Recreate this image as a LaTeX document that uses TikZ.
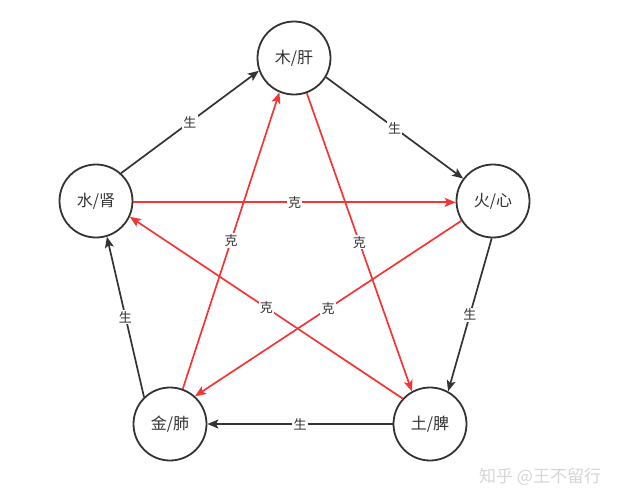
\documentclass[tikz,border=0pt]{standalone}
\usepackage{fontspec}
\setmainfont{Noto Sans CJK SC}
\usetikzlibrary{arrows.meta}
\definecolor{ink}{HTML}{333333}
\definecolor{kered}{HTML}{F53535}
\definecolor{wm}{HTML}{D5D5D5}
\begin{document}
\begin{tikzpicture}[x=1pt,y=-1pt,
  elem/.style={circle, draw=ink, line width=1.8pt, minimum size=73pt, inner sep=0pt, text=ink, font=\fontsize{16}{16}\selectfont},
  sheng/.style={draw=ink, line width=1.7pt, -{Stealth[length=11pt,width=9pt,inset=2.5pt]}},
  ke/.style={draw=kered, line width=1.7pt, -{Stealth[length=11pt,width=9pt,inset=2.5pt]}},
  lbl/.style={fill=white, inner sep=1.2pt, text=ink, font=\fontsize{13}{13}\selectfont}]
\useasboundingbox (0,0) rectangle (630,504);
\node[elem] (mu) at (294,58) {木/肝};
\node[elem] (huo) at (493,201) {火/心};
\node[elem] (tu) at (430,424) {土/脾};
\node[elem] (jin) at (170,424) {金/肺};
\node[elem] (shui) at (96,201) {水/肾};
% sheng cycle
\draw[sheng] (shui.48) -- node[lbl] {生} (mu.200);
\draw[sheng] (mu.329) -- node[lbl] {生} (huo.143);
\draw[sheng] (huo.268) -- node[lbl] {生} (tu.61);
\draw[sheng] (tu.180) -- node[lbl] {生} (jin.0);
\draw[sheng] (jin.134) -- node[lbl] {生} (shui.287);
% ke cycle
\draw[ke] (shui.358) -- node[lbl] {克} (huo.182);
\draw[ke] (jin.70) -- node[lbl] {克} (mu.247);
\draw[ke] (mu.290) -- node[lbl] {克} (tu.119);
\draw[ke] (huo.212) -- node[lbl] {克} (jin.48);
\draw[ke] (tu.137) -- node[lbl] {克} (shui.335);
\node[text=wm, font=\fontsize{17}{17}\selectfont, anchor=west, inner sep=0pt] (mark) at (479,477) {知乎 @王不留行};
\end{tikzpicture}
\end{document}
